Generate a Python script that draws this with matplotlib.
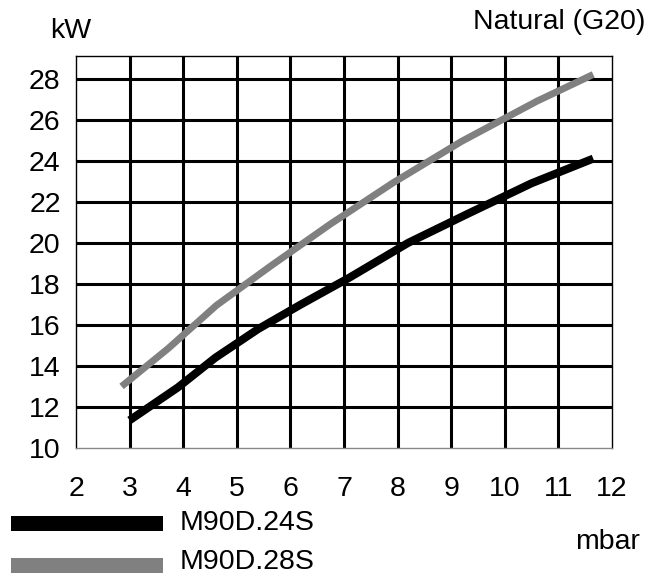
import matplotlib
matplotlib.use("Agg")
import matplotlib.pyplot as plt
from matplotlib.patches import Rectangle

# pressure (mbar) vs output (kW)
x_24s = [3.0, 3.9, 4.6, 5.4, 6.2, 7.1, 8.2, 9.3, 10.5, 11.65]
y_24s = [11.35, 12.95, 14.4, 15.8, 17.0, 18.3, 20.0, 21.4, 22.9, 24.1]

x_28s = [2.85, 3.72, 4.62, 5.65, 6.74, 7.92, 9.2, 10.6, 11.65]
y_28s = [13.0, 14.85, 16.95, 18.9, 20.9, 22.93, 24.95, 26.9, 28.2]

x_ticks = list(range(2, 13))
y_ticks = list(range(10, 29, 2))
labels = ["M90D.24S", "M90D.28S"]
colors = ["#000000", "#808080"]

plt.rcParams["font.family"] = ["Liberation Sans", "DejaVu Sans"]
FS = 20.5

fig = plt.figure(figsize=(6.6, 5.76), dpi=100)
ax = fig.add_axes([76 / 660, 1 - 448 / 576, 536 / 660, 392 / 576])

ax.set_xlim(2, 12)
ax.set_ylim(10, 29.1)
ax.set_xticks(x_ticks)
ax.set_yticks(y_ticks)
ax.tick_params(length=0, labelsize=FS, pad=11)
ax.tick_params(axis="x", pad=20)

for xv in x_ticks[1:-1]:
    ax.axvline(xv, color="black", lw=2.2, zorder=1)
for yv in y_ticks[1:]:
    ax.axhline(yv, color="black", lw=2.2, zorder=1)

for side in ["left", "top", "right"]:
    ax.spines[side].set_linewidth(1.0)
    ax.spines[side].set_color("black")
ax.spines["bottom"].set_linewidth(1.0)
ax.spines["bottom"].set_color("#888888")

ax.plot(x_24s, y_24s, color=colors[0], lw=5.8, solid_capstyle="butt", zorder=3)
ax.plot(x_28s, y_28s, color=colors[1], lw=5.0, solid_capstyle="butt", zorder=3)

fig.text(50 / 660, 1 - 31 / 576, "kW", fontsize=FS, va="center", ha="left")
fig.text(645 / 660, 1 - 22 / 576, "Natural (G20)", fontsize=FS, va="center", ha="right")
fig.text(575 / 660, 1 - 542 / 576, "mbar", fontsize=FS, va="center", ha="left")

# legend drawn below the plot
rows = [523, 565]
text_rows = [523, 562]
for label, color, yc, yt in zip(labels, colors, rows, text_rows):
    fig.patches.append(Rectangle((11 / 660, 1 - (yc + 7.5) / 576), 152 / 660, 15 / 576,
                                 transform=fig.transFigure, color=color, lw=0))
    fig.text(180 / 660, 1 - yt / 576, label, fontsize=FS, va="center", ha="left")

fig.savefig("out.png", dpi=100)
